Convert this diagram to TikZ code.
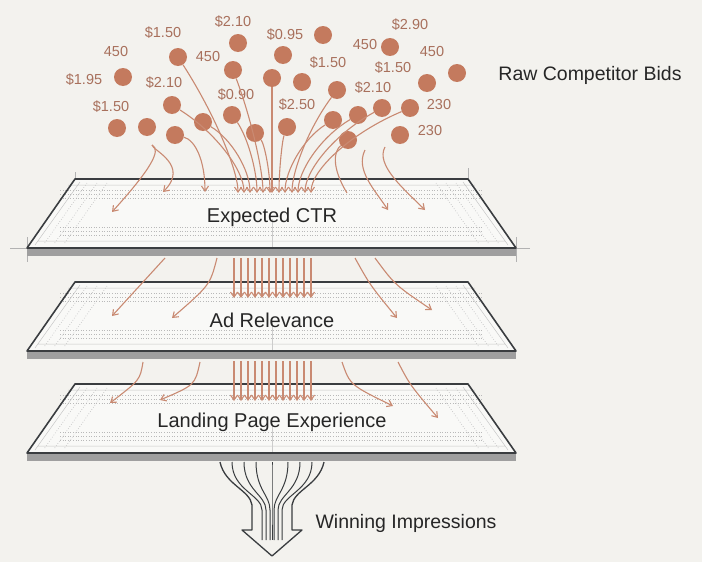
\documentclass[tikz,border=0pt]{standalone}
\usepackage{fontspec}
\setmainfont{Liberation Sans}
\usetikzlibrary{arrows.meta,calc}
\definecolor{bg}{HTML}{F3F2EE}
\definecolor{bid}{HTML}{C47A5E}
\definecolor{bidtxt}{HTML}{A8705C}
\definecolor{lnk}{HTML}{C98A72}
\definecolor{edge}{HTML}{3A3D40}
\tikzset{
 dot/.style={circle,fill=bid,minimum size=18pt,inner sep=0pt},
 bidlbl/.style={text=bidtxt,font=\fontsize{14.5}{14.5}\selectfont},
 flow/.style={lnk,line width=1.1pt,-{Straight Barb[length=5pt,width=7pt]}},
 flowplain/.style={lnk,line width=1.1pt},
 layerlbl/.style={text=black!85,font=\fontsize{20}{20}\selectfont},
 guide/.style={gray!60,line width=0.5pt},
 dots/.style={gray!55,line width=0.6pt,dotted},
}
\begin{document}
\begin{tikzpicture}[x=1pt,y=-1pt]
\fill[bg] (0,0) rectangle (702,562);
\useasboundingbox (0,0) rectangle (702,562);
% guides plane 1
\draw[guide] (75,172)--(75,190) (10,248)--(40,248) (27,237)--(27,262) (516,237)--(516,262) (505,248)--(530,248) (468,168)--(468,180);
% planes
\foreach \t/\nm/\txt in {179/pa/Expected CTR,282/pb/Ad Relevance,384/pc/Landing Page Experience}{
  \fill[gray!75] (27,\t+69) rectangle (516,\t+77);
  \fill[white!50!bg] (75,\t)--(468,\t)--(516,\t+69)--(27,\t+69)--cycle;
  \draw[gray!45,line width=0.5pt] (68,\t+6)--(475,\t+6) (38,\t+62)--(505,\t+62) (80,\t+3)--(35,\t+66) (463,\t+3)--(508,\t+66);
  \foreach \o in {11,15,19,48,52,56}{\draw[dots] (60,\t+\o)--(483,\t+\o);}
  \foreach \d in {12,22,32}{\draw[dots] (75+\d,\t+4)--(32+\d,\t+65); \draw[dots] (468-\d,\t+4)--(511-\d,\t+65);}
  \draw[gray!40,line width=0.4pt] (272,\t+40)--(272,\t+69);
  \draw[edge,line width=1.6pt,line join=round] (75,\t)--(468,\t)--(516,\t+69)--(27,\t+69)--cycle;
  \node[layerlbl] (\nm) at (272,\t+38) {\txt};
}
% dots
\foreach \x/\y [count=\i] in {117/128,147/127,175/135,172/105,178/57,203/122,232/115,238/43,233/70,255/133,272/78,287/127,283/55,302/82,323/35,337/90,333/120,358/115,348/140,382/108,410/108,400/135,427/83,457/73,390/47,123/77}
  \node[dot] (d\i) at (\x,\y) {};
% bid labels
\foreach \x/\y/\s in {163/33/\$1.50,233/22/\$2.10,285/35/\$0.95,410/25/\$2.90,116/52/450,208/57/450,365/45/450,432/52/450,84/80/\$1.95,164/83/\$2.10,328/63/\$1.50,393/68/\$1.50,236/95/\$0.90,297/105/\$2.50,373/88/\$2.10,111/107/\$1.50,439/105/230,430/131/230}
  \node[bidlbl] at (\x,\y) {\s};
\node[text=black!85,font=\fontsize{19.5}{19.5}\selectfont] (title) at (590,75) {Raw Competitor Bids};
% converging lines into plane 1
\foreach \s/\tx in {5/238,4/244,6/250,7/257,9/263,10/270,11/272,12/279,17/285,16/292,18/298,20/305,21/311}{
  \coordinate (e\s) at (\tx,193);
  \draw[flow] (d\s) .. controls ($(d\s)!0.6!(\tx,150)$) and (\tx,170) .. (e\s);
}
\draw[flow] (d3) .. controls (195,140) and (205,160) .. (205,192);
% hook arrows left
\coordinate (h1) at (152,145);
\draw[flow] (h1) .. controls (162,150) and (150,170) .. (112,212);
\draw[flow] (h1) .. controls (152,150) and (190,165) .. (163,192);
% right side
\draw[flowplain] (d19) .. controls (335,150) and (330,165) .. (347,193);
\draw[flow] (365,150) .. controls (355,170) and (375,190) .. (388,210);
\draw[flow] (385,147) .. controls (375,165) and (405,190) .. (425,210);
% between planes
\foreach \t in {258,361}{
  \foreach \k in {0,...,11}{\draw[flow] (234+\k*7,\t)--(234+\k*7,\t+40);}
}
\draw[flow] (165,258)--(112,316);
\draw[flow] (217,258) .. controls (210,285) .. (172,318);
\draw[flow] (355,258) .. controls (370,285) .. (397,318);
\draw[flow] (375,258) .. controls (395,285) .. (432,310);
\draw[flow] (143,362) .. controls (140,380) .. (110,403);
\draw[flow] (200,362) .. controls (195,385) .. (160,400);
\draw[flow] (342,362) .. controls (350,385) .. (393,406);
\draw[flow] (398,362) .. controls (410,385) .. (438,418);
% output arrow
\draw[edge,line width=1.3pt,line join=round,fill=bg] (220,462) .. controls (225,485) and (250,490) .. (252,505) -- (252,530) -- (242,530) -- (272,556) -- (302,530) -- (292,530) -- (292,505) .. controls (294,490) and (319,485) .. (324,462);
\foreach \a/\b in {232/262,244/266,256/270,272/272,288/274,300/278,312/282}{
  \draw[edge,line width=1pt] (\a,462) .. controls (\a,490) and (\b,495) .. (\b,510) -- (\b,540);
}
\node[text=black!85,font=\fontsize{19.5}{19.5}\selectfont,anchor=west] (win) at (312,523) {Winning Impressions};
\end{tikzpicture}
\end{document}
